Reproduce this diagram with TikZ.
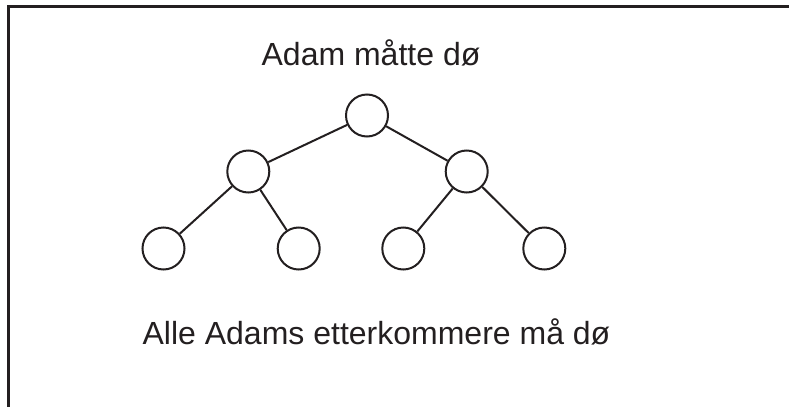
\documentclass[tikz,border=0pt]{standalone}
\usepackage{fontspec}
\setmainfont{Liberation Sans}
\definecolor{ink}{HTML}{231F20}
\begin{document}
\begin{tikzpicture}[x=1pt,y=-1pt,
  person/.style={circle,draw=ink,line width=2pt,minimum size=42pt,inner sep=0pt},
  link/.style={draw=ink,line width=2pt},
  label/.style={anchor=base,text=ink,inner sep=0pt,font=\fontsize{32}{38}\selectfont},
  frame/.style={draw=ink,line width=2.5pt}]
\useasboundingbox (0,0) rectangle (789,407);
\coordinate (ftr) at (789,6.5);
\coordinate (ftl) at (8.7,6.5);
\coordinate (fbl) at (8.7,407);
\draw[frame] (ftr) -- (ftl) -- (fbl);
\node[label] (top) at (371,65) {Adam måtte dø};
\node[label] (bot) at (376.5,344.3) {Alle Adams etterkommere må dø};
\node[person] (a) at (367,115.5) {};
\node[person] (b) at (248.3,171.5) {};
\node[person] (c) at (466.7,171.5) {};
\node[person] (d) at (163.5,248.5) {};
\node[person] (e) at (298.7,248.5) {};
\node[person] (f) at (403.3,248.5) {};
\node[person] (g) at (544.3,248.5) {};
\draw[link] (a) -- (b);
\draw[link] (a) -- (c);
\draw[link] (b) -- (d);
\draw[link] (b) -- (e);
\draw[link] (c) -- (f);
\draw[link] (c) -- (g);
\end{tikzpicture}
\end{document}
